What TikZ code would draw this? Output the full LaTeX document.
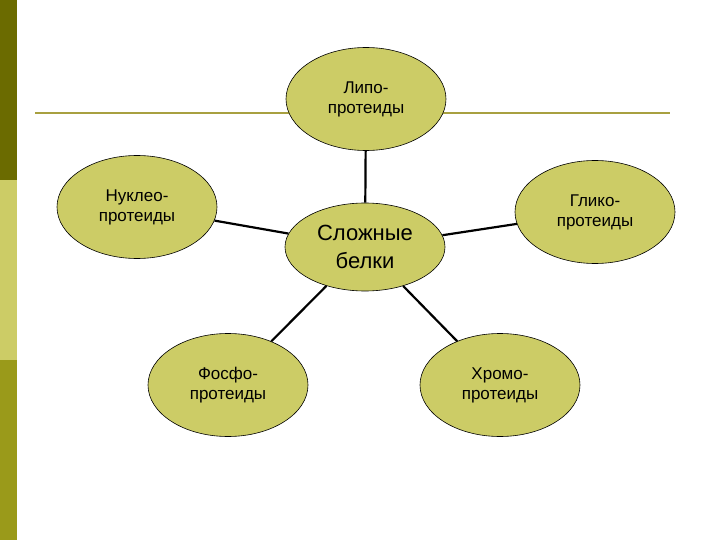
\documentclass[tikz,border=0pt]{standalone}
\usepackage{fontspec}
\setmainfont{Liberation Sans}
\usetikzlibrary{shapes.geometric}
\definecolor{fillc}{HTML}{CCCC66}
\definecolor{bar1}{HTML}{6B6B00}
\definecolor{bar2}{HTML}{CCCC66}
\definecolor{bar3}{HTML}{9A9A1A}
\definecolor{hline}{HTML}{A8A040}
\tikzset{
  bub/.style={ellipse, draw=black, line width=0.6pt, fill=fillc, minimum width=160pt, minimum height=103pt, inner sep=0pt, align=center, font=\fontsize{17}{20}\selectfont},
  link/.style={line width=2.2pt, black}
}
\begin{document}
\begin{tikzpicture}[x=1pt,y=-1pt]
\useasboundingbox (0,0) rectangle (720,540);
\fill[white] (0,0) rectangle (720,540);
\fill[bar1] (0,0) rectangle (17,180);
\fill[bar2] (0,180) rectangle (17,360);
\fill[bar3] (0,360) rectangle (17,540);
\draw[hline, line width=1.5pt] (35,113) -- (670,113);
\node[bub] (lipo) at (366,99) {Липо-\\протеиды};
\node[bub] (nuk) at (137,207) {Нуклео-\\протеиды};
\node[bub] (gli) at (595,212) {Глико-\\протеиды};
\node[bub] (fos) at (228,385) {Фосфо-\\протеиды};
\node[bub] (chr) at (500,385) {Хромо-\\протеиды};
\node[bub, minimum height=88pt, font=\fontsize{22}{28}\selectfont] (c) at (365,247) {Сложные\\белки};
\draw[link] (lipo) -- (c);
\draw[link] (nuk) -- (c);
\draw[link] (gli) -- (c);
\draw[link] (fos) -- (c);
\draw[link] (chr) -- (c);
\end{tikzpicture}
\end{document}
